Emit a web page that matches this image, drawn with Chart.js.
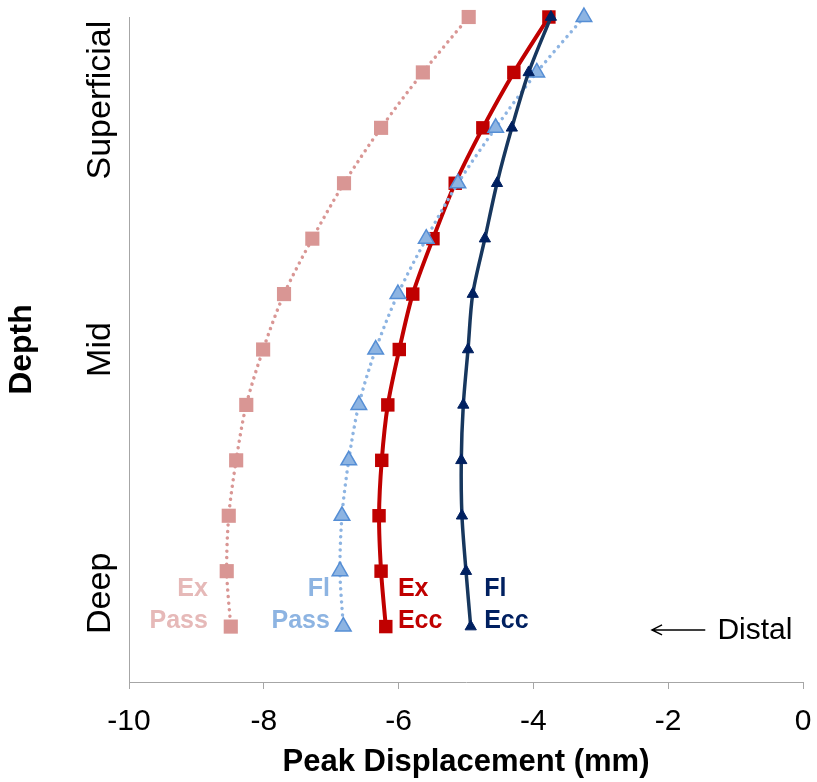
<!DOCTYPE html>
<html>
<head>
<meta charset="utf-8">
<script src="https://cdn.jsdelivr.net/npm/chart.js@4.4.1/dist/chart.umd.min.js"></script>
<style>
  body { margin: 0; background: #fff; }
  #wrap { width: 817px; height: 782px; }
</style>
</head>
<body>
<div id="wrap"><canvas id="myChart" width="817" height="782"></canvas></div>
<script>
// depth index (1 = superficial, 12 = deep)
var depth = [1, 2, 3, 4, 5, 6, 7, 8, 9, 10, 11, 12];
var exPass = [-4.96, -5.64, -6.26, -6.81, -7.28, -7.70, -8.01, -8.26, -8.41, -8.52, -8.55, -8.49];
var flPass = [-3.25, -3.95, -4.56, -5.12, -5.59, -6.01, -6.34, -6.59, -6.74, -6.84, -6.87, -6.82];
var exEcc = [-3.77, -4.29, -4.75, -5.16, -5.49, -5.79, -5.99, -6.16, -6.25, -6.29, -6.26, -6.19];
var flEcc = [-3.74, -4.07, -4.32, -4.54, -4.72, -4.90, -4.97, -5.04, -5.07, -5.06, -5.00, -4.93];

var depthLabels = ["Superficial", "Mid", "Deep"];
var depthLabelAt = [2.5, 7, 11.4];

var seriesNames = [["Ex", "Pass"], ["Fl", "Pass"], ["Ex", "Ecc"], ["Fl", "Ecc"]];

const pink = "#D99694";
const pinkText = "#E6B9B8";
const lightBlue = "#8DB4E2";
const midBlue = "#558ED5";
const red = "#C00000";
const navy = "#002060";
const axisGrey = "#A6A6A6";
const FONT = "'Liberation Sans', Arial, sans-serif";

function toPoints(values) {
  var arr = new Array(values.length);
  for (let i = 0; i < values.length; i++) {
    arr[i] = { x: values[i], y: depth[i] };
  }
  return arr;
}

// where the series names and the "Distal" note sit, in data units
var noteX = [-8.83, -7.02, -6.01, -4.73];
var noteAlign = ["right", "right", "left", "left"];
var noteColor = [pinkText, lightBlue, red, navy];
var noteY = [11.32, 11.9];

const notes = {
  id: "notes",
  afterDatasetsDraw(chart) {
    const ctx = chart.ctx;
    const xs = chart.scales.x;
    const ys = chart.scales.y;
    ctx.save();
    // series names
    ctx.font = "bold 25px " + FONT;
    ctx.textBaseline = "middle";
    for (let i = 0; i < seriesNames.length; i++) {
      ctx.fillStyle = noteColor[i];
      ctx.textAlign = noteAlign[i];
      for (let j = 0; j < 2; j++) {
        ctx.fillText(seriesNames[i][j], xs.getPixelForValue(noteX[i]), ys.getPixelForValue(noteY[j]));
      }
    }
    // distal arrow
    const ay = ys.getPixelForValue(12.06);
    const ax0 = xs.getPixelForValue(-2.24);
    const ax1 = xs.getPixelForValue(-1.45);
    ctx.strokeStyle = "#000";
    ctx.lineWidth = 1.5;
    ctx.beginPath();
    ctx.moveTo(ax1, ay);
    ctx.lineTo(ax0, ay);
    ctx.moveTo(ax0 + 10, ay - 5);
    ctx.lineTo(ax0, ay);
    ctx.lineTo(ax0 + 10, ay + 5);
    ctx.stroke();
    ctx.fillStyle = "#000";
    ctx.font = "30px " + FONT;
    ctx.textAlign = "left";
    ctx.fillText("Distal", xs.getPixelForValue(-1.27), ay + 1);
    // depth labels, turned sideways
    ctx.font = "34px " + FONT;
    ctx.textAlign = "center";
    for (let i = 0; i < depthLabels.length; i++) {
      ctx.save();
      ctx.translate(101, ys.getPixelForValue(depthLabelAt[i]));
      ctx.rotate(-Math.PI / 2);
      ctx.fillText(depthLabels[i], 0, 0);
      ctx.restore();
    }
    ctx.restore();
  },
};

const dotted = [0.01, 6.5];

const config = {
  type: "line",
  data: {
    datasets: [
      {
        label: "Fl Ecc",
        data: toPoints(flEcc),
        borderColor: "#17375E",
        borderWidth: 3.5,
        pointStyle: "triangle",
        pointRadius: 6.5,
        pointBackgroundColor: navy,
        pointBorderColor: navy,
        pointBorderWidth: 1,
        tension: 0.3,
        order: 0,
      },
      {
        label: "Fl Pass",
        data: toPoints(flPass),
        borderColor: lightBlue,
        borderWidth: 3.5,
        borderDash: dotted,
        borderCapStyle: "round",
        pointStyle: "triangle",
        pointRadius: 9,
        pointBackgroundColor: lightBlue,
        pointBorderColor: midBlue,
        pointBorderWidth: 1.5,
        tension: 0.3,
        order: 1,
      },
      {
        label: "Ex Ecc",
        data: toPoints(exEcc),
        borderColor: red,
        borderWidth: 4,
        pointStyle: "rect",
        pointRadius: 9.5,
        pointBackgroundColor: red,
        pointBorderColor: red,
        pointBorderWidth: 0,
        tension: 0.3,
        order: 2,
      },
      {
        label: "Ex Pass",
        data: toPoints(exPass),
        borderColor: pink,
        borderWidth: 3.5,
        borderDash: dotted,
        borderCapStyle: "round",
        pointStyle: "rect",
        pointRadius: 10,
        pointBackgroundColor: pink,
        pointBorderColor: pink,
        pointBorderWidth: 0,
        tension: 0.3,
        order: 3,
      },
    ],
  },
  options: {
    responsive: false,
    animation: false,
    indexAxis: "y",
    clip: false,
    layout: { padding: { top: 17, right: 14, left: 0, bottom: 0 } },
    plugins: {
      legend: { display: false },
      tooltip: { enabled: false },
    },
    elements: { line: { fill: false } },
    scales: {
      x: {
        type: "linear",
        min: -10,
        max: 0,
        afterFit: (s) => {
          s.height = 100;
          s.paddingLeft = 0;
          s.paddingRight = 0;
        },
        border: { display: true, color: axisGrey, width: 1 },
        grid: { display: true, drawOnChartArea: false, drawTicks: true, tickLength: 7, color: axisGrey },
        ticks: {
          stepSize: 2,
          color: "#000",
          padding: 15,
          font: { family: FONT, size: 30 },
        },
        title: {
          display: true,
          text: "Peak Displacement (mm)",
          color: "#000",
          padding: { top: 0, bottom: 1 },
          font: { family: FONT, size: 31, weight: "bold" },
        },
      },
      y: {
        type: "linear",
        reverse: true,
        min: 1,
        max: 13,
        afterFit: (s) => { s.width = 129; },
        border: { display: true, color: axisGrey, width: 1 },
        grid: { display: false },
        ticks: { display: false },
        title: {
          display: true,
          text: "Depth",
          color: "#000",
          padding: { top: 3, bottom: 0 },
          font: { family: FONT, size: 32, weight: "bold" },
        },
      },
    },
  },
  plugins: [notes],
};

new Chart(document.getElementById("myChart"), config);
</script>
</body>
</html>
